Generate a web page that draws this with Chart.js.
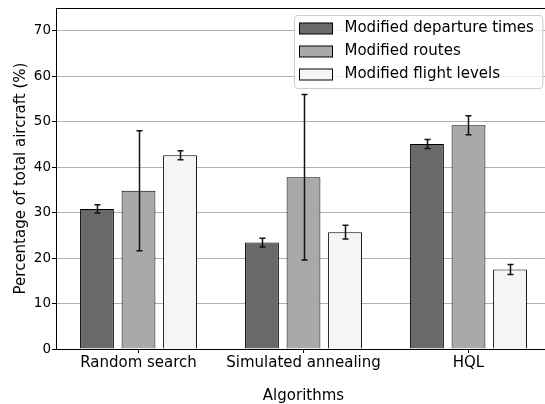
<!DOCTYPE html>
<html>
<head>
<meta charset="utf-8">
<script src="https://cdn.jsdelivr.net/npm/chart.js@4.4.0/dist/chart.umd.min.js"></script>
<style>
  html, body { margin: 0; padding: 0; background: #fff; overflow: hidden; width: 545px; height: 404px; }
  canvas { display: block; }
</style>
</head>
<body>
<canvas id="c" width="556" height="406"></canvas>
<script>
// Share of aircraft modified per algorithm (mean ± spread)
const categories = ['Random search', 'Simulated annealing', 'HQL'];
const seriesNames = ['Modified departure times', 'Modified routes', 'Modified flight levels'];
const departureTimes = [30.8, 23.4, 45.1];
const departureErr = [0.9, 0.95, 1.0];
const routes = [34.8, 37.8, 49.2];
const routesErr = [13.2, 18.2, 2.1];
const flightLevels = [42.6, 25.7, 17.5];
const flightLevelsErr = [1.0, 1.5, 1.1];
const yTicks = [0, 10, 20, 30, 40, 50, 60, 70];

const FONT = 'DejaVu Sans';
const fills = ['#696969', '#a9a9a9', '#f5f5f5'];
const values = [departureTimes, routes, flightLevels];
const errors = [departureErr, routesErr, flightLevelsErr];

// Vertical error bars with caps, centred on each bar
const errorBars = {
  id: 'errorBars',
  afterDatasetsDraw(chart) {
    const ctx = chart.ctx;
    const y = chart.scales.y;
    ctx.save();
    ctx.strokeStyle = '#111';
    ctx.lineWidth = 1.5;
    chart.data.datasets.forEach((ds, i) => {
      const meta = chart.getDatasetMeta(i);
      meta.data.forEach((bar, j) => {
        const v = ds.data[j], e = errors[i][j];
        const top = y.getPixelForValue(v + e);
        const bot = y.getPixelForValue(v - e);
        const x = Math.round(bar.x) + 0.5;
        ctx.beginPath();
        ctx.moveTo(x, top); ctx.lineTo(x, bot);
        ctx.moveTo(x - 3, top); ctx.lineTo(x + 3, top);
        ctx.moveTo(x - 3, bot); ctx.lineTo(x + 3, bot);
        ctx.stroke();
      });
    });
    ctx.restore();
  }
};

// Top frame line and the boxed legend in the upper right
const frameAndLegend = {
  id: 'frameAndLegend',
  afterDraw(chart) {
    const ctx = chart.ctx;
    const a = chart.chartArea;
    ctx.save();
    ctx.strokeStyle = '#000';
    ctx.lineWidth = 1;
    ctx.beginPath();
    ctx.moveTo(a.left, Math.round(a.top) + 0.5);
    ctx.lineTo(a.right, Math.round(a.top) + 0.5);
    ctx.stroke();

    ctx.font = '15px "' + FONT + '"';
    const names = chart.data.datasets.map(d => d.label);
    const tw = Math.max(...names.map(n => ctx.measureText(n).width));
    const patchW = 33, patchH = 11, row = 22.9;
    const w = 5 + patchW + 12 + tw + 9;
    const h = 73;
    const bx = Math.round(a.right - 9 - w) + 0.5;
    const by = Math.round(a.top + 7) + 0.5;
    const r = 3;
    ctx.beginPath();
    ctx.moveTo(bx + r, by);
    ctx.lineTo(bx + w - r, by);
    ctx.arcTo(bx + w, by, bx + w, by + r, r);
    ctx.lineTo(bx + w, by + h - r);
    ctx.arcTo(bx + w, by + h, bx + w - r, by + h, r);
    ctx.lineTo(bx + r, by + h);
    ctx.arcTo(bx, by + h, bx, by + h - r, r);
    ctx.lineTo(bx, by + r);
    ctx.arcTo(bx, by, bx + r, by, r);
    ctx.closePath();
    ctx.fillStyle = 'rgba(255,255,255,0.8)';
    ctx.fill();
    ctx.strokeStyle = '#cccccc';
    ctx.stroke();

    names.forEach((n, i) => {
      const cy = by + 13 + i * row;
      const px = bx + 5;
      ctx.fillStyle = chart.data.datasets[i].backgroundColor;
      ctx.fillRect(px, Math.round(cy - patchH / 2), patchW, patchH);
      ctx.strokeStyle = '#000';
      ctx.strokeRect(px, Math.round(cy - patchH / 2), patchW, patchH);
      ctx.fillStyle = '#000';
      ctx.textAlign = 'left';
      ctx.textBaseline = 'middle';
      ctx.fillText(n, px + patchW + 12, cy);
    });
    ctx.restore();
  }
};

new Chart(document.getElementById('c'), {
  type: 'bar',
  data: {
    labels: categories,
    datasets: seriesNames.map((name, i) => ({
      label: name,
      data: values[i],
      backgroundColor: fills[i],
      borderColor: '#000',
      borderWidth: 1,
      categoryPercentage: 0.755,
      barPercentage: 0.815
    }))
  },
  options: {
    responsive: false,
    animation: false,
    devicePixelRatio: 1,
    layout: { padding: { top: 8, right: 5, left: 0, bottom: 0 } },
    plugins: { legend: { display: false }, tooltip: { enabled: false } },
    scales: {
      x: {
        offset: true,
        grid: { display: true, drawOnChartArea: false, drawTicks: true, tickLength: 4, tickColor: '#000', offset: false },
        border: { display: true, color: '#000', width: 1 },
        ticks: { font: { family: FONT, size: 15 }, color: '#000', padding: 1, maxRotation: 0 },
        title: { display: true, text: 'Algorithms', font: { family: FONT, size: 15 }, color: '#000', padding: { top: 0, bottom: 1 } },
        afterFit(s) { s.height = 57; }
      },
      y: {
        min: 0,
        max: 75,
        afterBuildTicks(s) { s.ticks = yTicks.map(v => ({ value: v })); },
        grid: { color: '#b0b0b0', lineWidth: 1, tickColor: '#000', tickLength: 4 },
        border: { display: true, color: '#000', width: 1 },
        ticks: { font: { family: FONT, size: 13.5 }, color: '#000', padding: 1 },
        title: { display: true, text: 'Percentage of total aircraft (%)', font: { family: FONT, size: 15 }, color: '#000', padding: { top: 12, bottom: 0 } },
        afterFit(s) { s.width = 56; s.paddingTop = 0; s.paddingBottom = 0; }
      }
    }
  },
  plugins: [errorBars, frameAndLegend]
});
</script>
</body>
</html>
